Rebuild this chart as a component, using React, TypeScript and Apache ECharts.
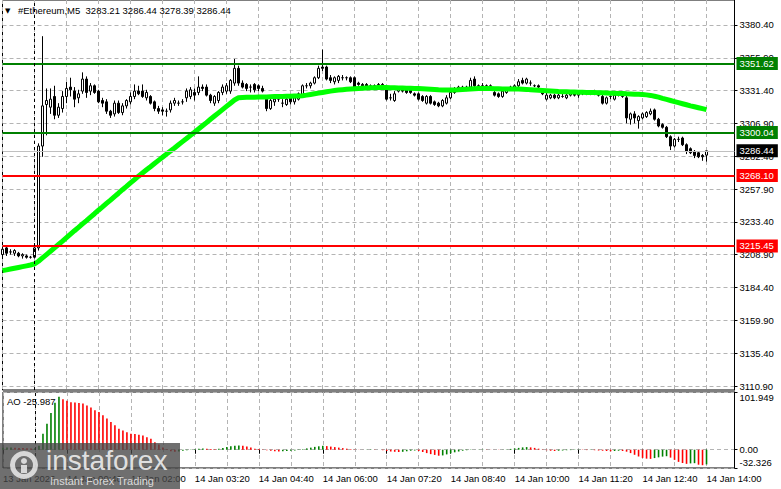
import React, { useEffect, useRef } from "react";
import * as echarts from "echarts";

// ---------- DATA ----------
const symbolTitle = "#Ethereum,M5";
const barCount = 184; // visible slots incl. right shift
const sessionSeparatorIndex = 8;

const timeTickLabels = [
  "13 Jan 2026", "14 Jan 00:40", "14 Jan 02:00", "14 Jan 03:20", "14 Jan 04:40", "14 Jan 06:00",
  "14 Jan 07:20", "14 Jan 08:40", "14 Jan 10:00", "14 Jan 11:20", "14 Jan 12:40", "14 Jan 14:00",
];

const priceTicks = [3110.9, 3135.4, 3159.9, 3184.4, 3208.9, 3233.4, 3257.9, 3282.4, 3306.9, 3331.4, 3355.9, 3380.4];
const aoTicks = [-32.326, 0, 101.949];

const greenLevels = [3351.62, 3300.04];
const redLevels = [3268.1, 3215.45];

// [open, high, low, close]
const ohlc: number[][] = [
  [3209, 3215, 3206, 3213], [3214, 3216, 3208, 3210], [3211, 3213, 3209, 3211], [3210, 3213, 3208, 3212],
  [3210, 3211, 3207, 3208], [3208, 3210, 3206, 3209], [3208, 3209, 3206, 3207], [3207, 3208, 3206, 3207],
  [3207, 3215, 3206, 3214], [3214, 3292, 3212, 3290], [3290, 3372, 3282, 3320], [3321, 3333, 3298, 3324],
  [3319, 3333, 3314, 3325], [3327, 3335, 3310, 3313], [3313, 3322, 3311, 3319], [3318, 3331, 3315, 3327],
  [3327, 3338, 3322, 3333], [3334, 3341, 3327, 3332], [3331, 3334, 3319, 3325], [3326, 3332, 3322, 3329],
  [3331, 3345, 3329, 3340], [3340, 3342, 3326, 3330], [3331, 3337, 3328, 3335], [3335, 3336, 3329, 3330],
  [3331, 3332, 3322, 3323], [3324, 3326, 3319, 3322], [3323, 3325, 3314, 3316], [3316, 3317, 3311, 3313],
  [3314, 3324, 3312, 3322], [3322, 3324, 3314, 3315], [3315, 3322, 3313, 3320], [3320, 3325, 3318, 3324],
  [3323, 3330, 3321, 3327], [3327, 3336, 3325, 3331], [3331, 3335, 3328, 3329], [3331, 3336, 3326, 3327],
  [3326, 3332, 3324, 3330], [3327, 3328, 3321, 3322], [3323, 3324, 3316, 3318], [3318, 3320, 3314, 3316],
  [3317, 3319, 3313, 3316], [3316, 3318, 3312, 3316], [3317, 3324, 3315, 3322], [3322, 3326, 3320, 3324],
  [3322, 3324, 3320, 3322], [3323, 3325, 3321, 3323], [3326, 3333, 3323, 3331], [3327, 3334, 3325, 3332],
  [3330, 3333, 3324, 3328], [3330, 3342, 3328, 3334], [3334, 3336, 3331, 3333], [3334, 3336, 3327, 3328],
  [3328, 3329, 3322, 3324], [3322, 3328, 3320, 3327], [3324, 3331, 3322, 3330], [3330, 3336, 3328, 3334],
  [3331, 3337, 3329, 3335], [3331, 3340, 3329, 3339], [3337, 3355, 3335, 3348], [3348, 3350, 3335, 3337],
  [3337, 3339, 3333, 3334], [3336, 3337, 3331, 3333], [3334, 3336, 3330, 3334], [3336, 3337, 3330, 3332],
  [3335, 3336, 3331, 3333], [3333, 3335, 3330, 3331], [3325, 3326, 3316, 3318], [3318, 3326, 3317, 3324],
  [3323, 3326, 3320, 3325], [3326, 3328, 3323, 3325], [3322, 3325, 3319, 3322], [3321, 3326, 3320, 3325],
  [3326, 3327, 3321, 3323], [3323, 3327, 3321, 3326], [3325, 3330, 3324, 3329], [3328, 3336, 3327, 3335],
  [3335, 3337, 3333, 3335], [3335, 3338, 3333, 3337], [3337, 3342, 3336, 3341], [3341, 3350, 3340, 3348],
  [3349, 3362, 3346, 3348], [3349, 3350, 3339, 3340], [3341, 3343, 3337, 3339], [3338, 3342, 3336, 3341],
  [3339, 3343, 3337, 3342], [3341, 3343, 3339, 3341], [3341, 3342, 3339, 3341], [3341, 3342, 3337, 3338],
  [3341, 3342, 3333, 3334], [3337, 3338, 3335, 3336], [3336, 3337, 3334, 3335], [3336, 3337, 3333, 3334],
  [3334, 3336, 3332, 3335], [3335, 3336, 3333, 3334], [3334, 3337, 3333, 3336], [3336, 3337, 3333, 3334],
  [3332, 3333, 3324, 3325], [3326, 3329, 3324, 3326], [3324, 3331, 3323, 3329], [3331, 3334, 3330, 3333],
  [3333, 3334, 3330, 3331], [3332, 3334, 3329, 3330], [3332, 3333, 3329, 3330], [3329, 3330, 3327, 3328],
  [3329, 3330, 3324, 3325], [3327, 3328, 3323, 3324], [3322, 3328, 3321, 3327], [3327, 3328, 3321, 3322],
  [3323, 3324, 3320, 3321], [3322, 3323, 3319, 3320], [3320, 3325, 3319, 3324], [3322, 3328, 3321, 3326],
  [3326, 3331, 3325, 3330], [3330, 3334, 3329, 3333], [3333, 3335, 3331, 3334], [3334, 3335, 3331, 3332],
  [3332, 3335, 3331, 3334], [3334, 3341, 3333, 3339], [3340, 3342, 3333, 3335], [3335, 3336, 3333, 3334],
  [3335, 3337, 3334, 3335], [3335, 3336, 3334, 3335], [3335, 3336, 3332, 3333], [3330, 3331, 3327, 3328],
  [3329, 3330, 3326, 3327], [3327, 3332, 3326, 3331], [3330, 3334, 3329, 3333], [3333, 3335, 3332, 3334],
  [3334, 3336, 3333, 3335], [3335, 3340, 3334, 3338], [3339, 3341, 3336, 3337], [3337, 3341, 3336, 3340],
  [3337, 3339, 3335, 3337], [3335, 3336, 3334, 3335], [3335, 3336, 3333, 3334], [3332, 3333, 3328, 3329],
  [3325, 3330, 3324, 3328], [3326, 3329, 3325, 3328], [3328, 3329, 3325, 3326], [3326, 3329, 3325, 3328],
  [3327, 3329, 3326, 3327], [3326, 3329, 3325, 3328], [3328, 3330, 3327, 3329], [3329, 3331, 3327, 3328],
  [3328, 3330, 3326, 3329], [3329, 3331, 3328, 3330], [3330, 3331, 3328, 3329], [3329, 3331, 3328, 3330],
  [3330, 3332, 3328, 3329], [3329, 3331, 3327, 3328], [3327, 3329, 3321, 3322], [3322, 3327, 3321, 3326],
  [3327, 3328, 3325, 3327], [3325, 3329, 3324, 3328], [3328, 3330, 3327, 3329], [3327, 3330, 3326, 3329],
  [3326, 3328, 3307, 3311], [3310, 3315, 3306, 3314], [3314, 3316, 3307, 3311], [3309, 3313, 3303, 3312],
  [3311, 3315, 3310, 3314], [3312, 3316, 3311, 3315], [3314, 3318, 3313, 3316], [3317, 3318, 3309, 3310],
  [3310, 3311, 3304, 3305], [3306, 3307, 3303, 3304], [3304, 3305, 3296, 3297], [3297, 3298, 3287, 3290],
  [3290, 3296, 3289, 3295], [3295, 3297, 3293, 3295], [3296, 3297, 3290, 3291], [3291, 3292, 3284, 3286],
  [3288, 3289, 3284, 3285], [3286, 3287, 3281, 3283], [3285, 3286, 3281, 3282], [3283, 3284, 3279, 3282],
  [3283.21, 3286.44, 3278.39, 3286.44],
];

// moving average (green line)
const maValues = [
  3197.0, 3197.6, 3198.2, 3198.8, 3199.4, 3200.0, 3200.6, 3201.2, 3202.0, 3204.0,
  3206.5, 3209.0, 3211.5, 3214.0, 3216.5, 3219.0, 3221.6, 3224.2, 3226.8, 3229.3,
  3231.9, 3234.4, 3237.0, 3239.5, 3242.1, 3244.6, 3247.2, 3249.7, 3252.3, 3254.8,
  3257.4, 3259.9, 3262.5, 3265.0, 3267.5, 3269.9, 3272.3, 3274.6, 3277.0, 3279.3,
  3281.6, 3284.0, 3286.3, 3288.6, 3291.0, 3293.3, 3295.6, 3298.0, 3300.3, 3302.7,
  3305.1, 3307.5, 3310.0, 3312.4, 3314.8, 3317.2, 3319.6, 3322.0, 3324.4, 3326.0,
  3326.3, 3326.4, 3326.5, 3326.5, 3326.6, 3326.6, 3326.7, 3326.8, 3326.9, 3327.0,
  3327.0, 3327.1, 3327.2, 3327.3, 3327.4, 3327.6, 3328.0, 3328.5, 3329.0, 3329.5,
  3330.0, 3330.5, 3331.0, 3331.4, 3331.8, 3332.1, 3332.4, 3332.6, 3332.8, 3333.0,
  3333.2, 3333.4, 3333.5, 3333.6, 3333.7, 3333.7, 3333.7, 3333.6, 3333.5, 3333.4,
  3333.3, 3333.2, 3333.1, 3333.0, 3332.9, 3332.8, 3332.6, 3332.4, 3332.2, 3332.0,
  3331.9, 3331.8, 3331.8, 3331.9, 3332.0, 3332.2, 3332.4, 3332.6, 3332.8, 3332.9,
  3333.0, 3333.0, 3332.9, 3332.8, 3332.7, 3332.6, 3332.5, 3332.5, 3332.5, 3332.5,
  3332.4, 3332.3, 3332.1, 3331.9, 3331.7, 3331.5, 3331.3, 3331.1, 3330.9, 3330.7,
  3330.6, 3330.5, 3330.4, 3330.3, 3330.2, 3330.1, 3330.0, 3330.0, 3329.9, 3329.8,
  3329.7, 3329.6, 3329.5, 3329.4, 3329.3, 3329.2, 3329.0, 3328.9, 3328.7, 3328.6,
  3328.4, 3328.2, 3327.8, 3327.2, 3326.5, 3325.6, 3324.8, 3324.0, 3323.2, 3322.4,
  3321.6, 3320.8, 3320.0, 3319.3, 3318.6, 3317.9, 3317.2,
];

// Awesome Oscillator histogram
const aoValues = [
  3.5, 3.8, 4.0, 3.6, 3.2, 3.0, 2.6, 2.2, 2.6, 7.0,
  28.0, 46.0, 65.0, 83.0, 93.6, 89.0, 86.4, 84.0, 83.2, 82.4,
  81.7, 78.2, 74.6, 69.8, 66.8, 60.9, 55.0, 48.9, 43.0, 37.0,
  34.0, 31.0, 28.1, 27.6, 26.3, 25.0, 22.0, 19.2, 13.1, 9.0,
  4.1, 1.0, -2.6, -3.4, -3.2, -1.8, -0.9, 0.2, 0.9, 1.8,
  2.3, 1.8, 1.4, 0.9, 1.8, 3.2, 4.6, 6.0, 6.9, 7.3,
  6.9, 5.5, 3.7, 1.8, 1.4, 0.5, -0.9, -1.8, -2.8, -3.2,
  -2.8, -2.3, -1.8, -1.4, -0.5, 0.9, 2.3, 3.7, 5.0, 6.0,
  6.9, 6.4, 5.5, 4.6, 3.7, 2.8, 1.8, 0.9, 0.5, 0.2,
  0.1, 0.3, 0.5, 0.3, 0.0, -0.9, -2.3, -3.2, -3.7, -4.1,
  -3.7, -2.8, -1.8, -1.4, -2.3, -4.1, -6.0, -7.8, -9.2, -10.6,
  -10.1, -8.3, -6.4, -4.6, -3.2, -1.8, -0.9, -0.5, 0.1, 0.3,
  0.5, 0.3, 0.2, 0.1, -0.3, 0.2, 0.5, 1.4, 2.3, 3.2,
  4.1, 4.6, 4.1, 3.2, 1.8, 0.5, -0.9, -1.8, -2.3, -1.8,
  -1.4, -0.9, -0.7, -0.5, -0.3, -0.5, -0.7, -0.5, -0.9, -1.4,
  -1.8, -2.3, -2.8, -2.3, -1.8, -2.3, -3.5, -6.0, -9.0, -12.0,
  -14.5, -15.8, -16.2, -14.8, -13.5, -12.2, -11.5, -14.0, -18.0, -21.5,
  -23.5, -25.0, -24.2, -23.8, -26.5, -27.4, -25.987,
];

// ---------- helpers ----------
const FONT = "Liberation Sans";
const pad2 = (n: number) => (n < 10 ? "0" + n : "" + n);
const categories: string[] = [];
for (let i = 0; i < barCount; i++) {
  const m = 23 * 60 + 20 + 5 * i;
  const day = m >= 1440 ? 14 : 13;
  const mm = m % 1440;
  categories.push(`${day} Jan ${pad2(Math.floor(mm / 60))}:${pad2(mm % 60)}`);
}

const pxPerUnit = 362 / 269.5;
const mainMin = 3110.9 - 4 / pxPerUnit;
const mainMax = 3380.4 + 25 / pxPerUnit;

const GRID_COLOR = "#B4B4B4";
const every8 = (i: number) => i % 8 === 0;
const every16 = (i: number) => i % 16 === 0;
const LABEL_SIZE = 9.5;

export default function App() {
  const ref = useRef<HTMLDivElement>(null);

  useEffect(() => {
    if (!ref.current) return;
    const chart = echarts.init(ref.current, undefined, { renderer: "svg" });

    const last = ohlc[ohlc.length - 1];
    const lastClose = last[3];
    const aoLast = aoValues[aoValues.length - 1];

    const levelLabel = (bg: string) => ({
      show: true,
      position: "end",
      distance: 2,
      formatter: (p: any) => Number(p.value).toFixed(2),
      color: "#fff",
      backgroundColor: bg,
      padding: [2, 4, 1, 3],
      fontSize: LABEL_SIZE,
      fontFamily: FONT,
    });

    const aoBars = aoValues.map((v, i) => ({
      value: v,
      itemStyle: { color: i === 0 || v > aoValues[i - 1] ? "#008000" : "#FF0000" },
    }));

    const option: any = {
      animation: false,
      backgroundColor: "#fff",
      textStyle: { fontFamily: FONT },
      grid: [
        { left: 2.5, right: 46.5, top: -1, height: 391, show: true, borderColor: "#000", borderWidth: 1, backgroundColor: "transparent" },
        { left: 2.5, right: 46.5, top: 392, height: 76, show: true, borderColor: "#000", borderWidth: 1, backgroundColor: "transparent" },
      ],
      xAxis: [
        {
          type: "category",
          gridIndex: 0,
          data: categories,
          boundaryGap: false,
          axisLine: { show: false },
          axisTick: { show: false },
          axisLabel: { show: false },
          splitLine: { show: true, interval: every8, lineStyle: { color: GRID_COLOR, type: [4, 3], width: 1 } },
        },
        {
          type: "category",
          gridIndex: 1,
          data: categories,
          boundaryGap: false,
          axisLine: { show: false },
          axisTick: { show: true, interval: every16, alignWithLabel: true, length: 4, lineStyle: { color: "#000" } },
          axisLabel: {
            interval: every16,
            align: "left",
            margin: 5,
            fontSize: LABEL_SIZE,
            color: "#000",
            fontFamily: FONT,
            formatter: (v: string, idx: number) => (idx % 16 === 0 && timeTickLabels[idx / 16]) || v,
          },
          splitLine: { show: true, interval: every8, lineStyle: { color: GRID_COLOR, type: [4, 3], width: 1 } },
        },
      ],
      yAxis: [
        {
          type: "value",
          gridIndex: 0,
          position: "right",
          min: mainMin,
          max: mainMax,
          axisLine: { show: true, lineStyle: { color: "#000" } },
          axisTick: { show: true, customValues: priceTicks, length: 3, lineStyle: { color: "#000" } },
          axisLabel: {
            customValues: priceTicks,
            formatter: (v: number) => v.toFixed(2),
            margin: 5,
            fontSize: LABEL_SIZE,
            color: "#000",
            fontFamily: FONT,
          },
          splitLine: { show: true, lineStyle: { color: GRID_COLOR, type: [4, 3], width: 1 } },
        },
        {
          type: "value",
          gridIndex: 1,
          position: "right",
          min: aoTicks[0],
          max: aoTicks[2],
          axisLine: { show: true, lineStyle: { color: "#000" } },
          axisTick: { show: true, customValues: aoTicks, length: 3, lineStyle: { color: "#000" } },
          axisLabel: {
            customValues: aoTicks,
            margin: 5,
            formatter: (v: number) => {
              const s = v === 0 ? "0.00" : v.toFixed(3);
              if (v === aoTicks[2]) return `{top|${s}}`;
              if (v === aoTicks[0]) return `{bot|${s}}`;
              return `{mid|${s}}`;
            },
            rich: {
              top: { padding: [10, 0, 0, 0], fontSize: LABEL_SIZE, color: "#000", fontFamily: FONT },
              bot: { padding: [0, 0, 12, 0], fontSize: LABEL_SIZE, color: "#000", fontFamily: FONT },
              mid: { fontSize: LABEL_SIZE, color: "#000", fontFamily: FONT },
            },
          },
          splitLine: { show: true, lineStyle: { color: GRID_COLOR, type: [4, 3], width: 1 } },
        },
      ],
      series: [
        {
          type: "candlestick",
          xAxisIndex: 0,
          yAxisIndex: 0,
          barWidth: 3,
          clip: false,
          data: ohlc.map(([o, h, l, c]) => [o, c, l, h]),
          itemStyle: { color: "#fff", color0: "#000", borderColor: "#000", borderColor0: "#000", borderWidth: 1 },
          markLine: {
            silent: true,
            symbol: ["none", "none"],
            animation: false,
            data: [
              ...greenLevels.map((v) => ({ yAxis: v, lineStyle: { color: "#008000", width: 2, type: "solid" }, label: levelLabel("#008000") })),
              ...redLevels.map((v) => ({ yAxis: v, lineStyle: { color: "#FF0000", width: 2, type: "solid" }, label: levelLabel("#FF0000") })),
              { yAxis: lastClose, lineStyle: { color: "#C0C0C0", width: 1, type: "solid" }, label: levelLabel("#000") },
              { xAxis: categories[sessionSeparatorIndex], lineStyle: { color: "#000", width: 1, type: [3, 3] }, label: { show: false } },
            ],
          },
        },
        {
          type: "line",
          xAxisIndex: 0,
          yAxisIndex: 0,
          data: maValues,
          showSymbol: false,
          symbol: "none",
          z: 3,
          lineStyle: { color: "#00FF00", width: 5 },
        },
        {
          type: "bar",
          xAxisIndex: 1,
          yAxisIndex: 1,
          barWidth: 1.6,
          data: aoBars,
          markLine: {
            silent: true,
            symbol: ["none", "none"],
            animation: false,
            data: [
              { xAxis: categories[sessionSeparatorIndex], lineStyle: { color: "#000", width: 1, type: [3, 3] }, label: { show: false } },
            ],
          },
        },
      ],
      graphic: {
        elements: [
          { type: "text", left: 5, top: 7, z: 50, style: { text: "▼", fontSize: 7, fill: "#000", fontFamily: "DejaVu Sans" } },
          {
            type: "text",
            left: 18,
            top: 5,
            z: 50,
            style: {
              text: `${symbolTitle}  ${last[0].toFixed(2)} ${last[1].toFixed(2)} ${last[2].toFixed(2)} ${last[3].toFixed(2)}`,
              fontSize: LABEL_SIZE,
              fill: "#000",
              fontFamily: FONT,
            },
          },
          {
            type: "text",
            left: 7,
            top: 396,
            z: 50,
            style: { text: `AO ${aoLast.toFixed(3)}`, fontSize: LABEL_SIZE, fill: "#000", fontFamily: FONT },
          },
          // watermark
          { type: "rect", z: 100, shape: { x: 0, y: 443, width: 180, height: 46 }, style: { fill: "rgba(70,70,70,0.78)" } },
          { type: "ring", z: 101, shape: { cx: 24, cy: 465, r: 14, r0: 9 }, style: { fill: "rgba(235,235,235,0.85)" } },
          { type: "circle", z: 101, shape: { cx: 24, cy: 461, r: 3 }, style: { fill: "rgba(235,235,235,0.85)" } },
          { type: "rect", z: 101, shape: { x: 21, y: 465, width: 6, height: 8 }, style: { fill: "rgba(235,235,235,0.85)" } },
          {
            type: "text",
            z: 101,
            x: 46,
            y: 446,
            style: { text: "instaforex", fontSize: 28, fill: "rgba(240,240,240,0.9)", fontFamily: FONT, verticalAlign: "top" },
          },
          {
            type: "text",
            z: 101,
            x: 50,
            y: 475,
            style: { text: "Instant Forex Trading", fontSize: 11, fill: "rgba(240,240,240,0.85)", fontFamily: FONT, verticalAlign: "top" },
          },
        ],
      },
    };

    chart.setOption(option);
    return () => chart.dispose();
  }, []);

  return (
    <div
      ref={ref}
      style={{ position: "fixed", left: 0, top: 0, width: 781, height: 489, background: "#fff" }}
    />
  );
}
